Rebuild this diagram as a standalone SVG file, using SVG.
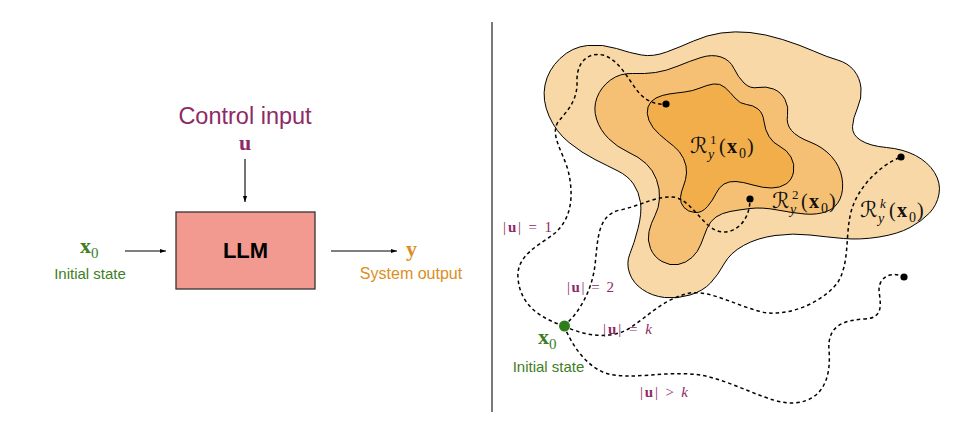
<svg xmlns="http://www.w3.org/2000/svg" width="978" height="443" viewBox="0 0 978 443">
<style>
.sans{font-family:"Liberation Sans",Arial,sans-serif}
.serif{font-family:"Liberation Serif","Times New Roman",serif}
.script{font-family:"DejaVu Serif","DejaVu Sans",serif;font-style:italic;font-size:22px}
.purple{fill:#8E2A66}
.green{fill:#3E7E1F}
.orange{fill:#DB8E22}
.arrow{stroke:#000;stroke-width:1.1;fill:none;marker-end:url(#ah)}
.dash{stroke:#000;stroke-width:1.5;fill:none;stroke-dasharray:3.5 3}
.blob{stroke:#000;stroke-width:1}
.dot{fill:#000}
.lab{font-size:15px}
</style>
<defs>
<marker id="ah" viewBox="0 0 10 10" refX="10" refY="5" markerWidth="6" markerHeight="6" orient="auto" markerUnits="userSpaceOnUse">
<path d="M0,1.5 L10,5 L0,8.5 Z" fill="#000"/>
</marker>
</defs>
<rect width="978" height="443" fill="#fff"/>

<!-- Left: block diagram -->
<g id="control-input">
<text class="sans purple" x="245" y="124" font-size="23.5" text-anchor="middle">Control input</text>
<text class="serif purple" x="245" y="150" font-size="22" font-weight="bold" text-anchor="middle">u</text>
</g>
<g id="llm">
<rect x="176" y="212" width="139" height="77" fill="#F29A90" stroke="#333" stroke-width="1.3"/>
<text class="sans" x="245.5" y="258" font-size="22" font-weight="bold" text-anchor="middle" fill="#000">LLM</text>
</g>
<g id="initial-state">
<text class="serif green" x="80" y="253" font-size="22" font-weight="bold">x<tspan font-size="15" font-weight="normal" dy="5">0</tspan></text>
<text class="sans green" x="90" y="279" font-size="15" text-anchor="middle">Initial state</text>
</g>
<g id="system-output">
<text class="serif orange" x="406" y="256" font-size="22" font-weight="bold">y</text>
<text class="sans orange" x="411" y="279" font-size="16" text-anchor="middle">System output</text>
</g>
<g id="connectors-left">
<line class="arrow" x1="245" y1="159" x2="245" y2="202"/>
<line class="arrow" x1="125" y1="251" x2="166" y2="251"/>
<line class="arrow" x1="331" y1="251" x2="397" y2="251"/>
</g>

<!-- divider -->
<line id="divider" x1="492" y1="22" x2="492" y2="412" stroke="#7a7a7a" stroke-width="2"/>

<!-- Right: reachable sets -->
<g id="region-k">
<path class="blob" fill="#F8D8A6" d="M587.5,45.5 Q603,44 616.5,48.5 Q630,53 641.5,55 Q653,57 666.5,52 Q680,47 693.5,41 Q707,35 721,33 Q735,31 750,32.5 Q765,34 782.5,39.5 Q800,45 813.5,51 Q827,57 837.5,60 Q848,63 854,70.5 Q860,78 861,88 Q862,98 857.5,108 Q853,118 852.5,126.5 Q852,135 861,140.5 Q870,146 886.5,147.5 Q903,149 915.5,155.5 Q928,162 934.5,172.5 Q941,183 939,194 Q937,205 929.5,213 Q922,221 910,227.5 Q898,234 879,237 Q860,240 843.5,238.5 Q827,237 810,235 Q793,233 775,235.5 Q757,238 743.5,245.5 Q730,253 724,264 Q718,275 710.5,283 Q703,291 690,295 Q677,299 664.5,297.5 Q652,296 642.5,289.5 Q633,283 629.5,273 Q626,263 630,253.5 Q634,244 638,228.5 Q642,213 640.5,202.5 Q639,192 633.5,184 Q628,176 618,171 Q608,166 595,159.5 Q582,153 569,142.5 Q556,132 549,116 Q542,100 545,85 Q548,70 560,58.5 Q572,47 587.5,45.5 Z"/>
</g>
<g id="region-2">
<path class="blob" fill="#F5C073" d="M632.5,73.5 Q645,74 655.5,72.5 Q666,71 678,66 Q690,61 701,57.5 Q712,54 721,57 Q730,60 734,68.5 Q738,77 744,83 Q750,89 758,87.5 Q766,86 773.5,89 Q781,92 785,99.5 Q789,107 787.5,115.5 Q786,124 791.5,130.5 Q797,137 810,142 Q823,147 831.5,156.5 Q840,166 842,178 Q844,190 840,199 Q836,208 826.5,211.5 Q817,215 805,214 Q793,213 777.5,210 Q762,207 750,208.5 Q738,210 730,211.5 Q722,213 716,217 Q710,221 707,228.5 Q704,236 701,244 Q698,252 692,257.5 Q686,263 678,264.5 Q670,266 662,261.5 Q654,257 650.5,248.5 Q647,240 649,231.5 Q651,223 655,215.5 Q659,208 659.5,198.5 Q660,189 656.5,179.5 Q653,170 646,163.5 Q639,157 628,152 Q617,147 608.5,138.5 Q600,130 596.5,119 Q593,108 597,97.5 Q601,87 610.5,80 Q620,73 632.5,73.5 Z"/>
</g>
<g id="region-1">
<path class="blob" fill="#F2AE4B" d="M656,98 Q662,95 669,94 Q676,93 684.5,92 Q693,91 700,88 Q707,85 713.5,84 Q720,83 725,87.5 Q730,92 735,98 Q740,104 746.5,104.5 Q753,105 758,109 Q763,113 764,121.5 Q765,130 769,136.5 Q773,143 780,146.5 Q787,150 791,157 Q795,164 793.5,172 Q792,180 786,184 Q780,188 771.5,188 Q763,188 753,185 Q743,182 736,181.5 Q729,181 724,184 Q719,187 716,193.5 Q713,200 707.5,206.5 Q702,213 695,212.5 Q688,212 684,207.5 Q680,203 680.5,197.5 Q681,192 683.5,186 Q686,180 686.5,173 Q687,166 683.5,158.5 Q680,151 673.5,146 Q667,141 659.5,134.5 Q652,128 649,120.5 Q646,113 648,107 Q650,101 656,98 Z"/>
</g>

<g id="connectors-right">
<path class="dash" d="M564,326 C540,318 520,305 518,278 C516,255 540,245 555,233 C572,218 574,195 568,170 C562,150 550,135 558,122 C568,110 578,100 577,80 C577,62 588,52 603,55 C620,60 628,80 640,94 C648,102 657,105 666,104"/>
<path class="dash" d="M564,326 C580,312 592,290 595,265 C598,240 597,215 620,210 C640,206 655,196 673,197 C690,199 700,222 715,230 C730,237 750,225 750,199"/>
<path class="dash" d="M564,326 C585,336 610,340 630,328 C648,316 665,298 690,293 C712,290 740,308 767,313 C795,315 825,300 838,282 C850,262 845,235 851,212 C857,188 880,165 901,157"/>
<path class="dash" d="M564,326 C572,345 585,365 605,373 C630,381 665,370 700,375 C735,381 770,405 795,403 C825,400 831,375 829,350 C827,325 845,320 865,319 C885,318 880,302 879,290 C879,276 893,271 904,277"/>
</g>

<g id="endpoints">
<circle class="dot" cx="666" cy="104" r="3.6"/>
<circle class="dot" cx="750" cy="199" r="3.6"/>
<circle class="dot" cx="901" cy="157" r="3.6"/>
<circle class="dot" cx="904" cy="277" r="3.6"/>
</g>

<g id="x0-node">
<circle cx="564.5" cy="326" r="5.5" fill="#2E7D1A"/>
<text class="serif green" x="538" y="344" font-size="22" font-weight="bold">x<tspan font-size="15" font-weight="normal" dy="5">0</tspan></text>
<text class="sans green" x="548.5" y="372" font-size="15" text-anchor="middle">Initial state</text>
</g>

<g id="region-labels" class="serif" fill="#111">
<text font-size="20"><tspan class="script" x="690" y="153">ℛ</tspan><tspan x="710" y="144" font-size="13">1</tspan><tspan x="708" y="159" font-size="14" font-style="italic">y</tspan><tspan x="719" y="153">(</tspan><tspan x="727" y="153" font-weight="bold">x</tspan><tspan x="739" y="158" font-size="14">0</tspan><tspan x="747" y="153">)</tspan></text>
<text font-size="20"><tspan class="script" x="772" y="208">ℛ</tspan><tspan x="792" y="199" font-size="13">2</tspan><tspan x="790" y="214" font-size="14" font-style="italic">y</tspan><tspan x="801" y="208">(</tspan><tspan x="809" y="208" font-weight="bold">x</tspan><tspan x="821" y="213" font-size="14">0</tspan><tspan x="829" y="208">)</tspan></text>
<text font-size="20"><tspan class="script" x="860" y="217">ℛ</tspan><tspan x="880" y="208" font-size="13" font-style="italic">k</tspan><tspan x="878" y="223" font-size="14" font-style="italic">y</tspan><tspan x="889" y="217">(</tspan><tspan x="897" y="217" font-weight="bold">x</tspan><tspan x="909" y="222" font-size="14">0</tspan><tspan x="917" y="217">)</tspan></text>
</g>

<g id="path-labels" class="serif purple lab">
<text x="503" y="232" textLength="49" lengthAdjust="spacing">|<tspan font-weight="bold">u</tspan>| = 1</text>
<text x="567" y="292" textLength="47" lengthAdjust="spacing">|<tspan font-weight="bold">u</tspan>| = 2</text>
<text x="603" y="334" textLength="49" lengthAdjust="spacing">|<tspan font-weight="bold">u</tspan>| = <tspan font-style="italic">k</tspan></text>
<text x="640" y="397" textLength="48" lengthAdjust="spacing">|<tspan font-weight="bold">u</tspan>| &gt; <tspan font-style="italic">k</tspan></text>
</g>
</svg>
